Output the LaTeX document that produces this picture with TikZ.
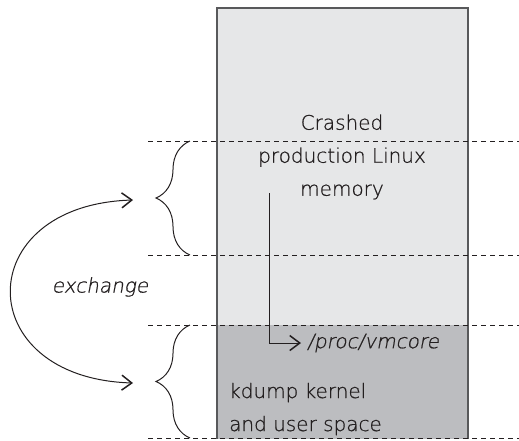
\documentclass[tikz,border=0pt]{standalone}
\usepackage{fontspec}
\setmainfont{DejaVu Sans ExtraLight}[FakeBold=0.7]
\newfontfamily\slantfont{DejaVu Sans ExtraLight}[FakeSlant=0.18,FakeBold=0.7]
\usetikzlibrary{arrows.meta,decorations.pathreplacing,positioning}
\definecolor{memlight}{HTML}{E6E7E8}
\definecolor{memdark}{HTML}{BCBDC0}
\definecolor{edge}{HTML}{58595B}
\definecolor{ink}{HTML}{231F20}

\begin{document}
\begin{tikzpicture}[x=1pt,y=-1pt,
			every node/.style={font=\fontsize{20}{33}\selectfont, text=ink, inner sep=0pt},
			level/.style={dash pattern=on 5pt off 4pt, draw=ink, line width=0.6pt},
			curly/.style={decorate, decoration={brace, amplitude=34pt, aspect=0.5}, draw=ink, line width=1pt},
			barb/.style={-{Straight Barb[length=10pt,width=15pt,line width=1.5pt]}, draw=ink, line width=1pt},
			twobarb/.style={{Straight Barb[length=10pt,width=15pt,line width=1.5pt]}-{Straight Barb[length=10pt,width=15pt,line width=1.5pt]}, draw=ink, line width=1pt}]
			\useasboundingbox (0,0) rectangle (519,440);
			
			% memory column
			\fill[memlight] (217,8) rectangle (468,325);
			\fill[memdark] (217,325) rectangle (468,439);
			\draw[edge, line width=1.1pt] (217,439) -- (217,8) -- (468,8) -- (468,439);
			
			\foreach \y in {141,255,325,438}
				\draw[level] (148,\y) -- (519,\y);
			
			\node[align=center] (crash) at (342,157) {Crashed\\production Linux\\memory};
			\node[font=\fontsize{20}{33}\selectfont\slantfont, anchor=west] (vmcore) at (307,343) {/proc/vmcore};
			\node[align=left, anchor=west] (kdump) at (229,409) {kdump kernel\\and user space};
			\node[font=\fontsize{20}{33}\selectfont\slantfont] (xchg) at (100,287) {exchange};
			
			\coordinate (dumpsrc) at (269,193);
			\draw[barb, shorten >=6pt] (dumpsrc) |- (vmcore.west);
			
			% braces
			\coordinate (upTop) at (190,141);
			\coordinate (upBot) at (190,255);
			\coordinate (loTop) at (190,325);
			\coordinate (loBot) at (190,438);
			\draw[curly] (upBot) -- (upTop);
			\draw[curly] (loBot) -- (loTop);
			
			\coordinate (upTip) at (133,200);
			\coordinate (loTip) at (133,383);
			\draw[twobarb] (loTip) .. controls (-30,378) and (-30,205) .. (upTip);
		\end{tikzpicture}
\end{document}
